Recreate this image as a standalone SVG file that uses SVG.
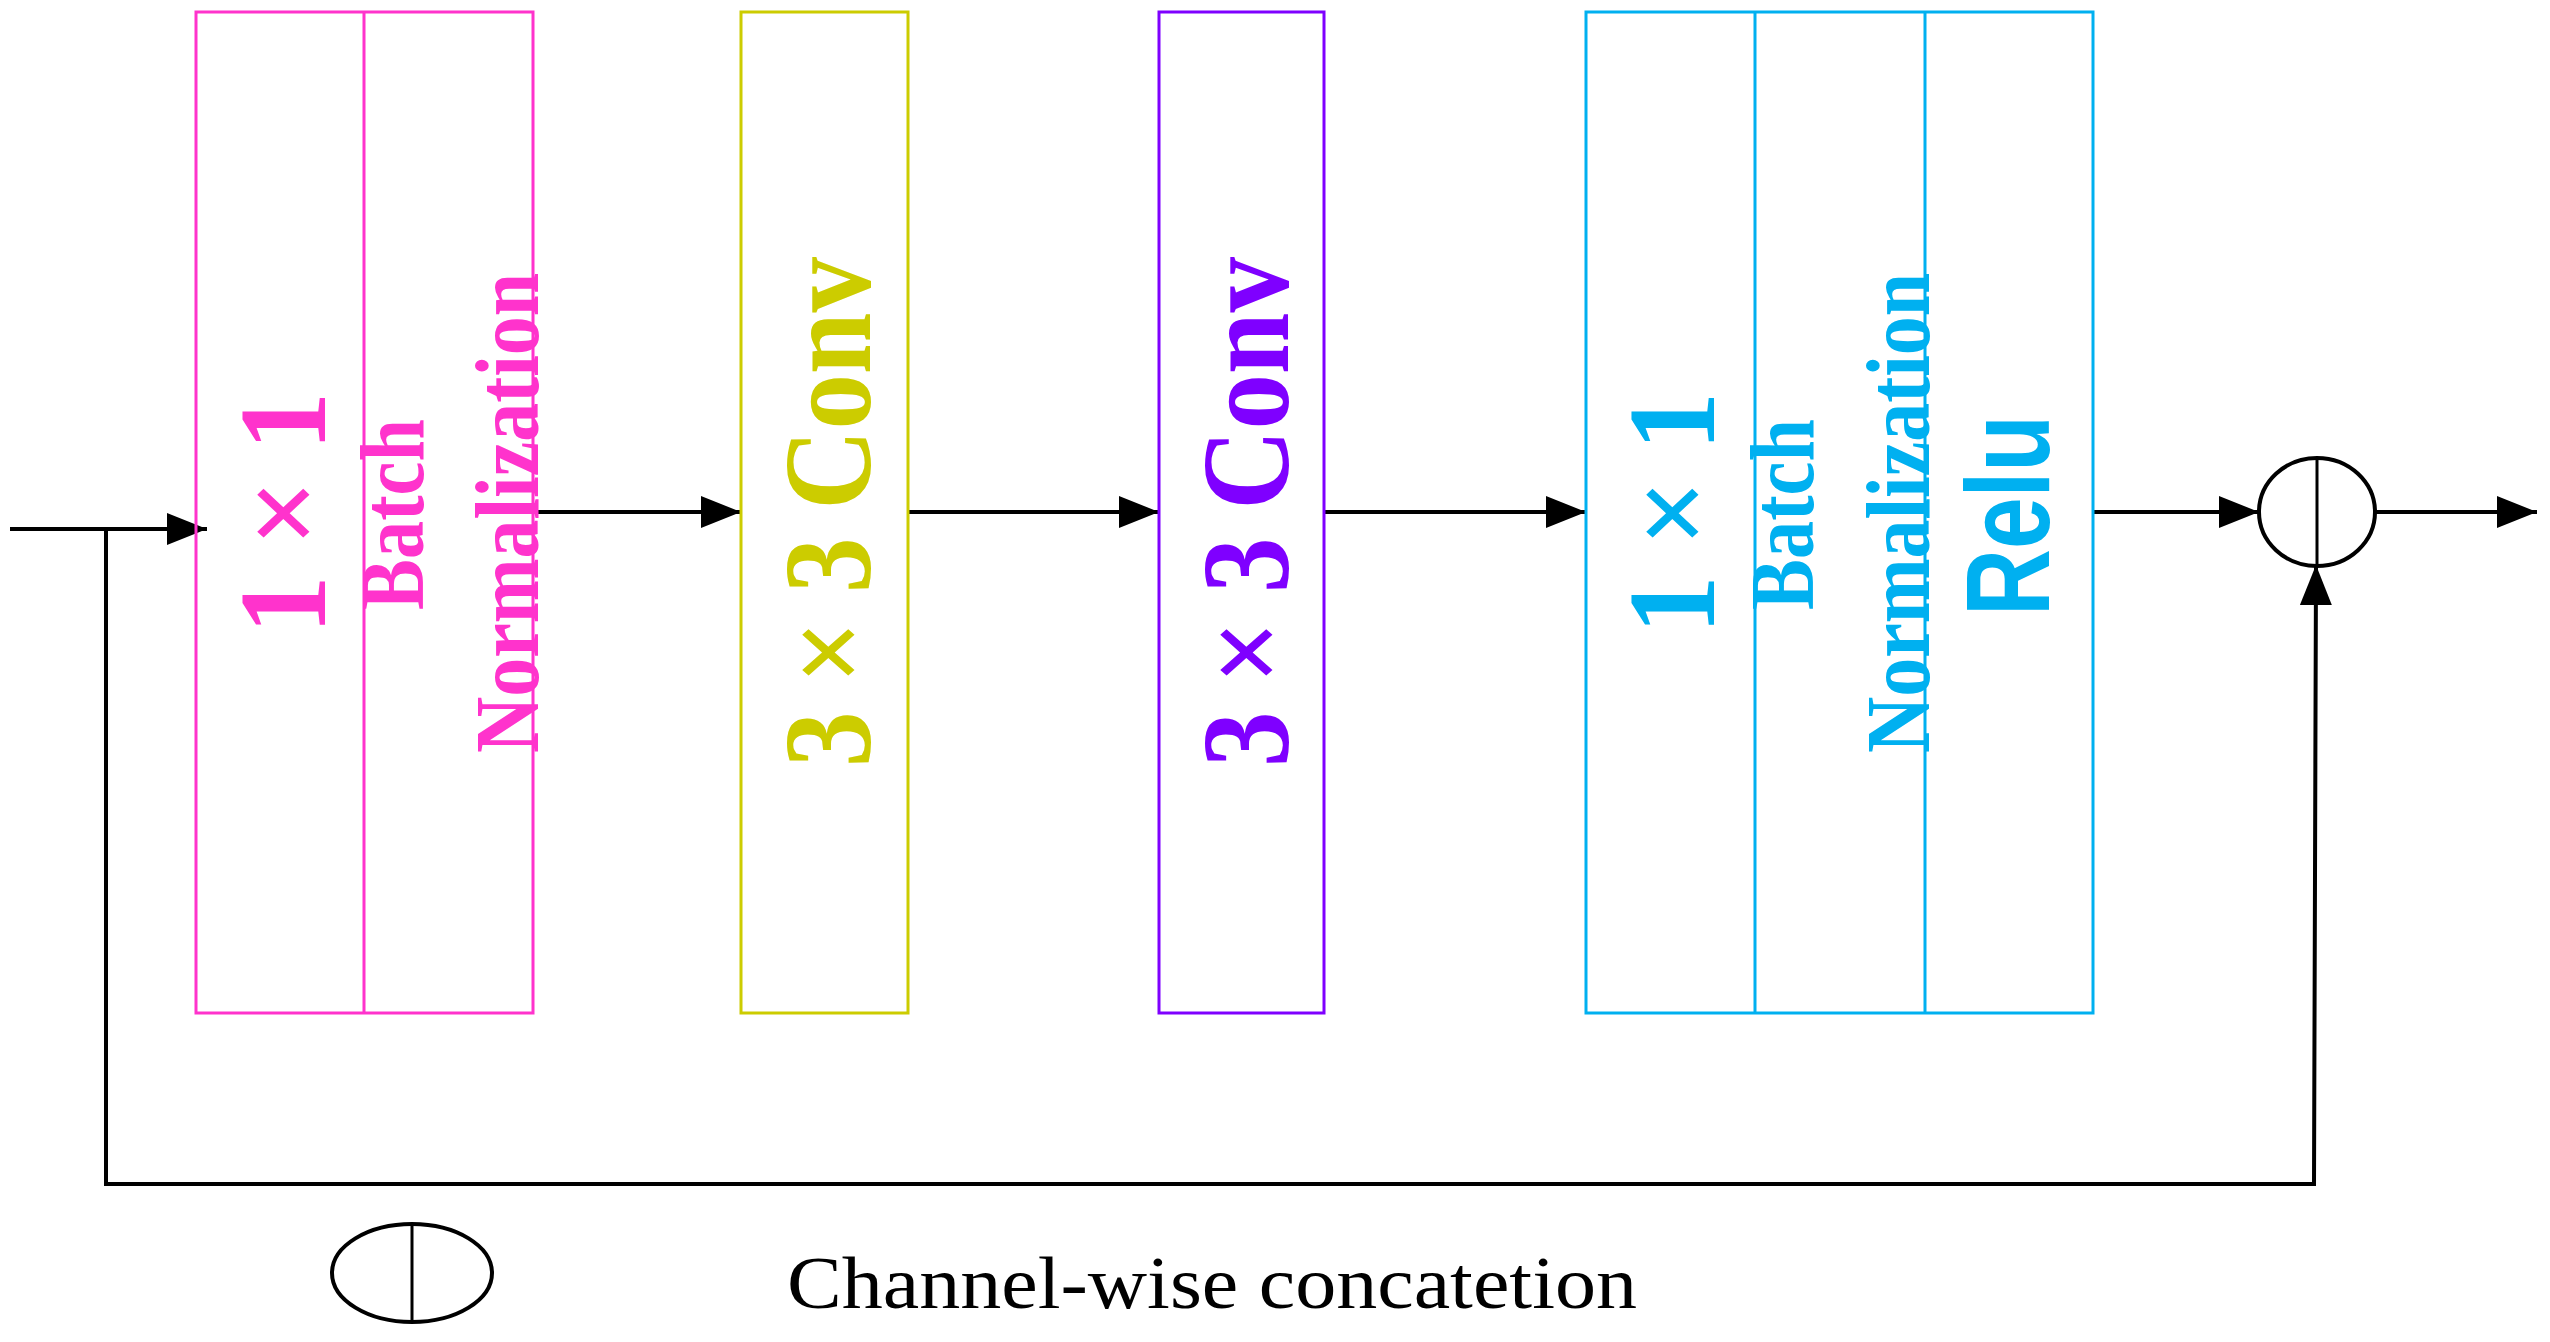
<svg xmlns="http://www.w3.org/2000/svg" width="2550" height="1342" viewBox="0 0 2550 1342">
<defs>
<marker id="ah" markerWidth="40" markerHeight="32" refX="40" refY="16" orient="auto" markerUnits="userSpaceOnUse"><path d="M0,0 L40,16 L0,32 Z" fill="#000"/></marker>
</defs>
<style>
.b{fill:none;stroke-width:3}
.t{font-family:"Liberation Serif",serif;font-weight:bold}
.s{font-family:"Liberation Sans",sans-serif;font-weight:bold}
.c{fill:none;stroke:#000;stroke-width:4}
</style>
<rect width="2550" height="1342" fill="#fff"/>
<g id="connectors" class="c">
<line x1="10" y1="529" x2="207" y2="529" marker-end="url(#ah)"/>
<polyline points="106,529 106,1184 2314,1184 2316,565" marker-end="url(#ah)"/>
<line x1="533" y1="512" x2="741" y2="512" marker-end="url(#ah)"/>
<line x1="908" y1="512" x2="1159" y2="512" marker-end="url(#ah)"/>
<line x1="1324" y1="512" x2="1586" y2="512" marker-end="url(#ah)"/>
<line x1="2093" y1="512" x2="2259" y2="512" marker-end="url(#ah)"/>
<line x1="2375" y1="512" x2="2537" y2="512" marker-end="url(#ah)"/>
</g>
<g id="bn1" fill="#FF33CC">
<rect class="b" x="196" y="12" width="337" height="1001" stroke="#FF33CC"/>
<line x1="364" y1="12" x2="364" y2="1013" stroke="#FF33CC" stroke-width="3"/>
<text class="t" font-size="125" transform="translate(325,634) rotate(-90)" textLength="242" lengthAdjust="spacingAndGlyphs">1 × 1</text>
<text class="t" font-size="92" transform="translate(423,610) rotate(-90)" textLength="191" lengthAdjust="spacingAndGlyphs">Batch</text>
<text class="t" font-size="92" transform="translate(538,753) rotate(-90)" textLength="480" lengthAdjust="spacingAndGlyphs">Normalization</text>
</g>
<g id="conv1" fill="#CCCC00">
<rect class="b" x="741" y="12" width="167" height="1001" stroke="#CCCC00"/>
<text class="t" font-size="125" transform="translate(870,767) rotate(-90)" textLength="510" lengthAdjust="spacingAndGlyphs">3 × 3 Conv</text>
</g>
<g id="conv2" fill="#7F00FF">
<rect class="b" x="1159" y="12" width="165" height="1001" stroke="#7F00FF"/>
<text class="t" font-size="125" transform="translate(1288,767) rotate(-90)" textLength="510" lengthAdjust="spacingAndGlyphs">3 × 3 Conv</text>
</g>
<g id="bn2" fill="#00B0F0">
<rect class="b" x="1586" y="12" width="507" height="1001" stroke="#00B0F0"/>
<line x1="1755" y1="12" x2="1755" y2="1013" stroke="#00B0F0" stroke-width="3"/>
<line x1="1925" y1="12" x2="1925" y2="1013" stroke="#00B0F0" stroke-width="3"/>
<text class="t" font-size="125" transform="translate(1714,634) rotate(-90)" textLength="242" lengthAdjust="spacingAndGlyphs">1 × 1</text>
<text class="t" font-size="92" transform="translate(1813,610) rotate(-90)" textLength="191" lengthAdjust="spacingAndGlyphs">Batch</text>
<text class="t" font-size="92" transform="translate(1929,753) rotate(-90)" textLength="480" lengthAdjust="spacingAndGlyphs">Normalization</text>
<text class="s" font-size="118" transform="translate(2049,616) rotate(-90)" textLength="201" lengthAdjust="spacingAndGlyphs">Relu</text>
</g>
<g id="concat">
<ellipse cx="2317" cy="512" rx="58" ry="54" class="c" stroke-width="3"/>
<line x1="2317" y1="458" x2="2317" y2="566" stroke="#000" stroke-width="3"/>
</g>
<g id="legend">
<ellipse cx="412" cy="1273" rx="80" ry="49" class="c" stroke-width="3"/>
<line x1="412" y1="1224" x2="412" y2="1322" stroke="#000" stroke-width="3"/>
<text x="787" y="1308" font-family="Liberation Serif,serif" font-size="74" textLength="850" lengthAdjust="spacingAndGlyphs">Channel-wise concatetion</text>
</g>
</svg>
